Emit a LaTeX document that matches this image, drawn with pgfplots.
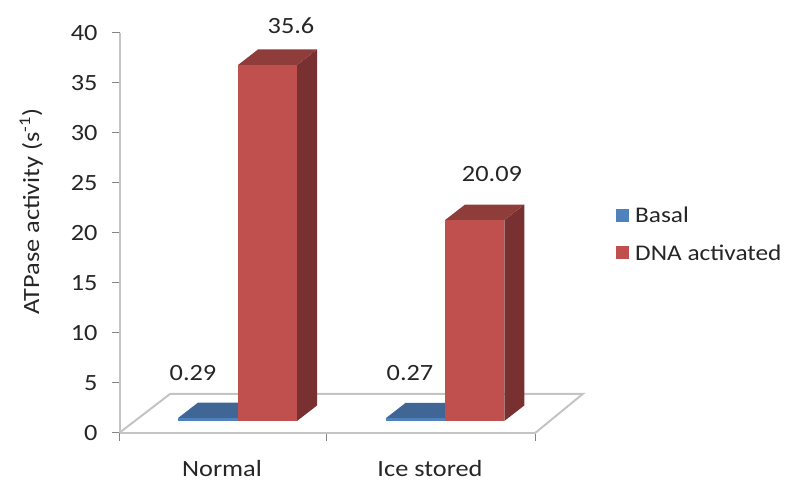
\documentclass[border=0pt]{standalone}
\usepackage{fontspec}
\setmainfont[FakeStretch=1.13]{Carlito}
\usepackage{pgfplots}
\pgfplotsset{compat=1.18}
\definecolor{frontred}{HTML}{C0504D}
\definecolor{topred}{HTML}{8E3D3B}
\definecolor{sidered}{HTML}{783130}
\definecolor{frontblue}{HTML}{4F81BD}
\definecolor{topblue}{HTML}{3F6694}
\definecolor{axisgray}{HTML}{C4C4C4}
\definecolor{tickgray}{HTML}{858585}
\newcommand{\lab}{\fontsize{23.3}{26}\selectfont}
\newcommand{\leglab}{\fontsize{22.4}{26}\selectfont}
% One face of a bar: columns are x position, value height, depth fraction.
\newcommand{\face}[2]{%
  \addplot[fill=#1,draw=none,forget plot] table[row sep=\\,
    x expr=\thisrow{x}+20*\thisrow{d},
    y expr=\thisrow{v}+1.17+1.55*\thisrow{d}]{x v d\\ #2};
}
% Block with left edge #1, right edge #2, value #3, face colours #4 #5 #6
\newcommand{\block}[6]{%
  \face{#6}{#2 0 0\\ #2 0 1\\ #2 #3 1\\ #2 #3 0\\}
  \face{#5}{#1 #3 0\\ #2 #3 0\\ #2 #3 1\\ #1 #3 1\\}
  \face{#4}{#1 0 0\\ #2 0 0\\ #2 #3 0\\ #1 #3 0\\}
}
\begin{document}
\begin{tikzpicture}[x=1pt,y=1pt]
\useasboundingbox (0,0) rectangle (787,481);
\begin{axis}[
  at={(119.5pt,48.3pt)},anchor=south west,
  scale only axis,width=416pt,height=400pt,
  xmin=119.5,xmax=535.5,ymin=0,ymax=40,
  clip=false,
  axis x line=bottom,axis y line=left,
  axis line style={draw=axisgray,line width=2pt,-},
  ytick={0,5,...,40},
  xtick={119.5,326.7,535.5},
  xticklabels={},
  extra x ticks={222,430},
  extra x tick labels={Normal,Ice stored},
  extra x tick style={major tick length=0pt,
    xticklabel style={inner sep=0pt,yshift=-27.5pt}},
  tick style={draw=tickgray,line width=1.2pt},
  major tick length=8pt,
  tick align=outside,
  tick label style={font=\lab,text=black!85},
  yticklabel style={xshift=-10.5pt},
  /pgf/number format/assume math mode=true,
  ylabel={ATPase activity (s\textsuperscript{-1})},
  ylabel style={font=\lab,text=black!85,at={(-0.212,0.5525)},anchor=center},
  legend style={draw=none,fill=none,font=\leglab,text=black!85,
    at={(axis cs:616,22.75)},anchor=north west,
    row sep=16pt,inner sep=0pt,
    /tikz/every even column/.style={column sep=8pt}},
  legend cell align=left,
  legend image code/.code={\fill[#1] (0pt,-6pt) rectangle (13pt,6.5pt);},
]
% back and side edges of the floor
\addplot[draw=axisgray,line width=2pt,forget plot] coordinates {(119.5,0) (170,3.87) (582.7,3.87) (535.5,0)};
\block{178}{238}{0.29}{frontblue}{topblue}{topblue}
\block{238}{297}{35.6}{frontred}{topred}{sidered}
\block{385.7}{445}{0.27}{frontblue}{topblue}{topblue}
\block{445}{504.3}{20.09}{frontred}{topred}{sidered}
\addlegendimage{fill=frontblue,draw=none}
\addlegendentry{\hspace{4pt}Basal}
\addlegendimage{fill=frontred,draw=none}
\addlegendentry{\hspace{4pt}DNA activated}
\node[font=\lab,text=black!85] at (axis cs:291,40.67) {35.6};
\node[font=\lab,text=black!85] at (axis cs:492,25.87) {20.09};
\node[font=\lab,text=black!85] at (axis cs:193,5.97) {0.29};
\node[font=\lab,text=black!85] at (axis cs:410,5.97) {0.27};
\end{axis}
\end{tikzpicture}
\end{document}
